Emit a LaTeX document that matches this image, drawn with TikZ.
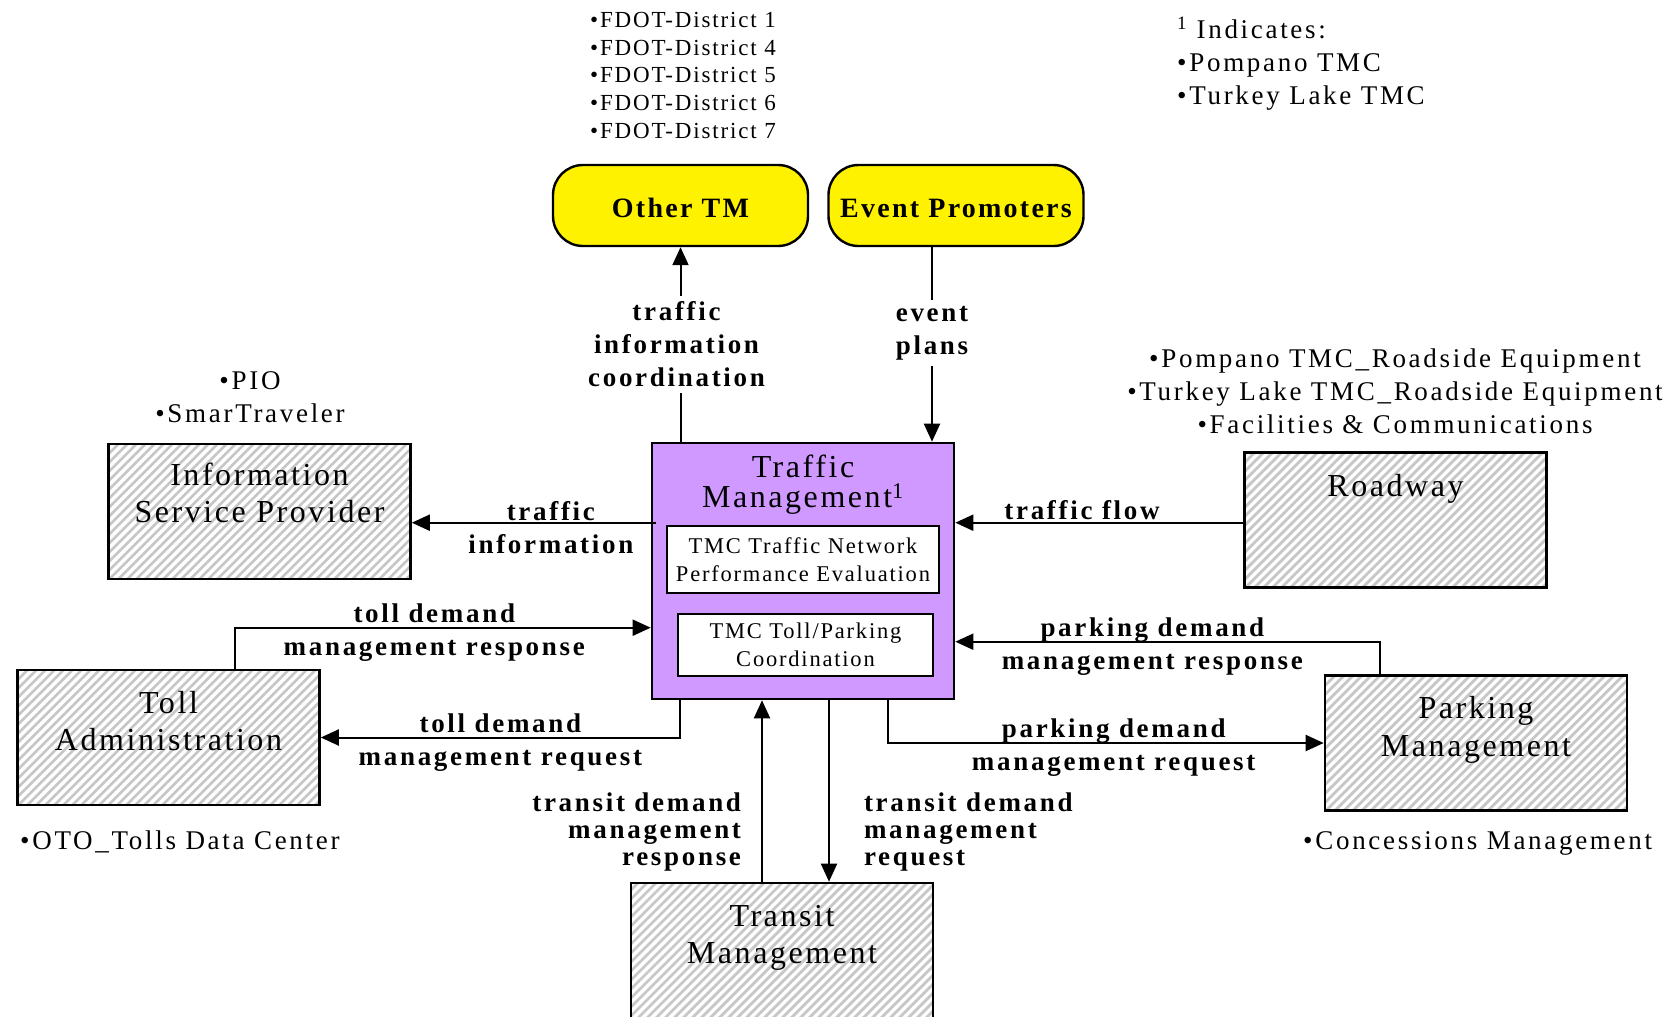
\documentclass[tikz,border=0pt]{standalone}
\usepackage{fontspec}
\setmainfont{Liberation Serif}[LetterSpace=8]
\usepackage{tikz}
\usetikzlibrary{arrows.meta,positioning}
\definecolor{tmlila}{RGB}{207,153,255}
\colorlet{csik}{black!22}
\tikzset{
  term/.style={draw,line width=2.6pt,minimum width=302pt,minimum height=135pt,inner sep=0pt,
    path picture={\foreach \d in {-170,-161,...,320}
      \draw[csik,line width=2.8pt] ([xshift=\d pt]path picture bounding box.south west) -- ++(330pt,330pt);}},
  pill/.style={draw,line width=2.4pt,fill=yellow,rounded corners=30pt,minimum width=255pt,
    minimum height=81pt,text height=25pt,font={\fontsize{28}{33}\selectfont\bfseries}},
  tmbox/.style={draw,line width=2.6pt,fill=tmlila,minimum width=302pt,minimum height=256pt},
  sub/.style={draw,fill=white,line width=2.2pt,align=center,inner sep=0pt,
    font={\fontsize{22.5}{28}\selectfont}},
  btxt/.style={anchor=north,align=center,inner sep=0pt,font={\fontsize{32}{37.5}\selectfont}},
  arr/.style={line width=2pt,-{Triangle[length=18pt,width=16pt]}},
  lbl/.style={align=center,inner sep=0pt,font={\fontsize{27}{33}\selectfont\bfseries\addfontfeature{LetterSpace=10}}},
  lbls/.style={lbl,yshift=-5pt},
  lblt/.style={lbl,yshift=-3pt,font={\fontsize{27}{27}\selectfont\bfseries\addfontfeature{LetterSpace=10}}},
  note/.style={inner sep=0pt,font={\fontsize{27}{33}\selectfont\addfontfeature{LetterSpace=10}}},
}
\begin{document}
\begin{tikzpicture}[x=1pt,y=-1pt]
  \useasboundingbox (0,0) rectangle (1668,1017);
  \node[pill] (oth) at (680.5,205.5) {Other TM};
  \node[pill] (evt) at (956,205.5) {Event Promoters};
  \node[tmbox] (tm) at (803,571) {};
  \node[term] (isp) at (259.5,511.5) {};
  \node[term] (tol) at (168.5,737.5) {};
  \node[term] (rdw) at (1395.5,520) {};
  \node[term] (pkg) at (1476,743) {};
  \node[term,minimum height=150pt] (trn) at (782,958) {};
  % texts inside the boxes
  \node[btxt,font={\fontsize{32}{30.5}\selectfont}] (tmt) at ([yshift=-13pt]tm.north) {Traffic\\Management\textsuperscript{1}};
  \node[sub,minimum width=272pt,minimum height=67pt] (npe) at (803,559.5) {TMC Traffic Network\\Performance Evaluation};
  \node[sub,minimum width=255pt,minimum height=62pt] (tpc) at (805.5,645) {TMC Toll/Parking\\Coordination};
  \node[btxt] (ispt) at ([yshift=-20pt]isp.north) {Information\\Service Provider};
  \node[btxt] (tolt) at ([yshift=-22pt]tol.north) {Toll\\Administration};
  \node[btxt] (rdwt) at ([yshift=-23pt]rdw.north) {Roadway};
  \node[btxt] (pkgt) at ([yshift=-22pt]pkg.north) {Parking\\Management};
  \node[btxt] (trnt) at ([yshift=-23pt]trn.north) {Transit\\Management};
  % lists of members
  \node[note,anchor=north west,align=left,font={\fontsize{23}{27.7}\selectfont}] (fdot) at (590,12)
    {•FDOT-District 1\\•FDOT-District 4\\•FDOT-District 5\\•FDOT-District 6\\•FDOT-District 7};
  \node[note,anchor=north west,align=left] (ind) at (1177,17)
    {\textsuperscript{1} Indicates:\\•Pompano TMC\\•Turkey Lake TMC};
  \node[note,anchor=north,align=center] (pio) at (250,371) {•PIO\\•SmarTraveler};
  \node[note,anchor=north,align=center] (rdl) at (1395,349)
    {•Pompano TMC\_Roadside Equipment\\•Turkey Lake TMC\_Roadside Equipment\\•Facilities \& Communications};
  \node[note,anchor=north west] (oto) at (20,831) {•OTO\_Tolls Data Center};
  \node[note,anchor=north west] (con) at (1303,831) {•Concessions Management};
  % flows
  \draw[arr] (tm.north -| oth.south) -- (oth.south)
    node[lbl,fill=white,inner sep=6pt,xshift=-4pt,midway] {traffic\\information\\coordination};
  \draw[arr] ([xshift=-24pt]evt.south) -- ([xshift=-24pt]evt.south |- tm.north)
    node[lbl,fill=white,inner sep=6pt,pos=0.44] {event\\plans};
  \coordinate (tfy) at ([xshift=5pt,yshift=-81pt]tm.north west);
  \draw[arr] (tfy) -- (tfy -| isp.east) node[lbls,pos=0.43] {traffic\\information};
  \draw[arr] (rdw.west |- tfy) -- (tm.east |- tfy) node[lbl,above=2pt,pos=0.56] {traffic flow};
  \draw[arr] ([xshift=66pt]tol.north) |- ([yshift=-186pt]tm.north west)
    node[lbls,pos=0.74] {toll demand\\management response};
  \draw[arr] ([xshift=-123pt]tm.south) |- (tol.east) node[lbls,pos=0.75] {toll demand\\management request};
  \draw[arr] ([xshift=-20pt]trn.north) -- ([xshift=-20pt]trn.north |- tm.south)
    node[lblt,align=right,left=20pt,pos=0.29] {transit demand\\management\\response};
  \draw[arr] ([xshift=26pt]tm.south) -- ([xshift=26pt]tm.south |- trn.north)
    node[lblt,align=left,right=34pt,pos=0.71] {transit demand\\management\\request};
  \draw[arr] ([xshift=-96pt]pkg.north) |- ([yshift=-200pt]tm.north east)
    node[lbls,pos=0.768] {parking demand\\management response};
  \draw[arr] ([xshift=85pt]tm.south) |- (pkg.west) node[lbls,pos=0.759] {parking demand\\management request};
\end{tikzpicture}
\end{document}
